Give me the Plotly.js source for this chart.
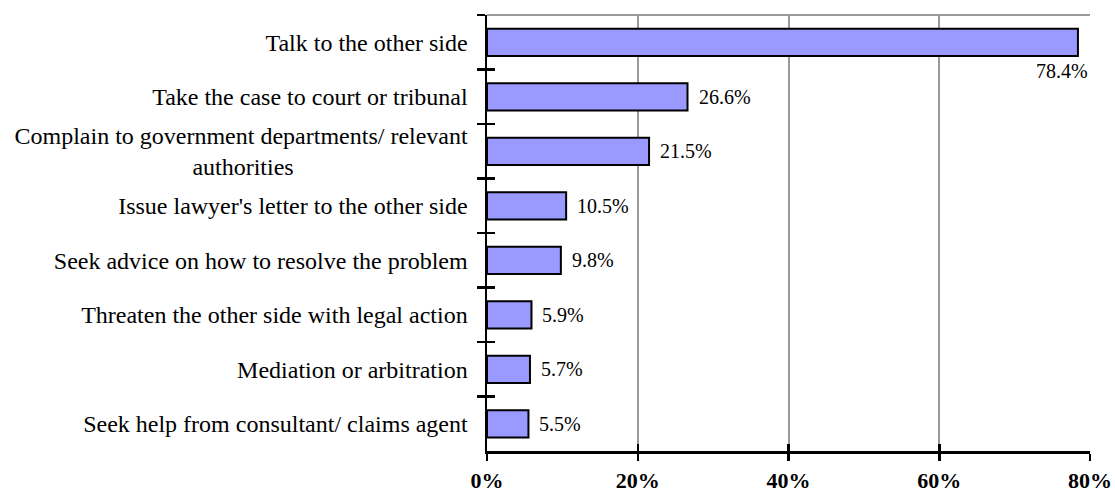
<!DOCTYPE html>
<html>
<head>
<meta charset="utf-8">
<script src="https://cdn.plot.ly/plotly-3.0.1.min.js"></script>
<style>html,body{margin:0;padding:0;background:#fff;}#chart{width:1115px;height:494px;}</style>
</head>
<body>
<div id="chart"></div>
<script>
const categories = [
  "Talk to the other side",
  "Take the case to court or tribunal",
  "Complain to government departments/ relevant<br>authorities" + "\u00A0".repeat(29),
  "Issue lawyer's letter to the other side",
  "Seek advice on how to resolve the problem",
  "Threaten the other side with legal action",
  "Mediation or arbitration",
  "Seek help from consultant/ claims agent"
];
const values = [78.4, 26.6, 21.5, 10.5, 9.8, 5.9, 5.7, 5.5];
const xTickVals = [0, 20, 40, 60, 80];
const xTickText = ["0%", "20%", "40%", "60%", "80%"];

const FONT = '"Liberation Serif", "Times New Roman", serif';
const boundaries = [];
for (let i = 0; i <= categories.length; i++) boundaries.push(i - 0.5);
const yRange = [categories.length - 0.5, -0.5];

const trace = {
  type: 'bar',
  orientation: 'h',
  x: values,
  y: categories,
  width: 0.5,
  marker: {color: '#9999FF', line: {color: '#000000', width: 2}},
  hoverinfo: 'none'
};

// invisible helper trace so the overlay axes (inner half of the crossing ticks) are drawn
const helper = {
  type: 'scatter', mode: 'markers',
  x: values, y: values.map((_, i) => i),
  xaxis: 'x2', yaxis: 'y2',
  marker: {opacity: 0, size: 1},
  hoverinfo: 'none', showlegend: false
};

const annotations = values.map((v, i) => {
  const big = v > 70;
  return {
    x: v, y: categories[i], xref: 'x', yref: 'y',
    text: v.toFixed(1) + '%',
    showarrow: false,
    xanchor: big ? 'right' : 'left',
    yanchor: 'middle',
    xshift: big ? 12 : 9,
    yshift: big ? -29 : 0,
    font: {family: FONT, size: 20, color: '#000'}
  };
});

const layout = {
  width: 1115, height: 494,
  margin: {l: 487, r: 25, t: 15, b: 43, pad: 0},
  paper_bgcolor: '#ffffff', plot_bgcolor: '#ffffff',
  showlegend: false,
  bargap: 0.5,
  xaxis: {
    range: [0, 80], tickvals: xTickVals, ticktext: xTickText,
    showgrid: true, gridcolor: '#999999', gridwidth: 2,
    zeroline: false,
    showline: true, linecolor: '#000', linewidth: 2.5,
    ticks: 'outside', ticklen: 7, tickwidth: 2.5, tickcolor: '#000',
    ticklabelstandoff: 1,
    tickfont: {family: FONT, size: 22, color: '#000', weight: 'bold'},
    fixedrange: true
  },
  yaxis: {
    type: 'category', categoryarray: categories, range: yRange,
    showgrid: false, zeroline: false,
    showline: true, linecolor: '#000', linewidth: 2.5,
    ticks: 'outside', tickson: 'boundaries', ticklen: 8, tickwidth: 2.5, tickcolor: '#000',
    ticklabelstandoff: 12,
    tickfont: {family: FONT, size: 24, color: '#000'},
    fixedrange: true
  },
  xaxis2: {
    overlaying: 'x', anchor: 'y2', side: 'bottom',
    range: [0, 80], tickvals: xTickVals,
    showticklabels: false, showgrid: false, zeroline: false, showline: false,
    ticks: 'inside', ticklen: 7, tickwidth: 2.5, tickcolor: '#000', fixedrange: true
  },
  yaxis2: {
    overlaying: 'y', anchor: 'x2', side: 'left',
    range: yRange, tickvals: boundaries,
    showticklabels: false, showgrid: false, zeroline: false, showline: false,
    ticks: 'inside', ticklen: 8, tickwidth: 2.5, tickcolor: '#000', fixedrange: true
  },
  shapes: [
    {type: 'line', xref: 'paper', yref: 'paper', x0: 0, x1: 1, y0: 1, y1: 1,
     line: {color: '#999999', width: 2}, layer: 'below'}
  ],
  annotations: annotations
};

Plotly.newPlot('chart', [trace, helper], layout, {displayModeBar: false, staticPlot: true});
</script>
</body>
</html>
